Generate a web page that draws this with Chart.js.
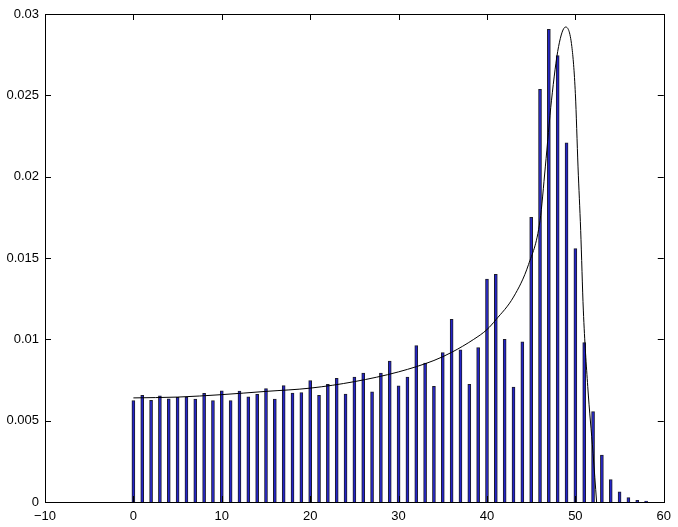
<!DOCTYPE html>
<html>
<head>
<meta charset="utf-8">
<script src="https://cdn.jsdelivr.net/npm/chart.js@4.4.0/dist/chart.umd.min.js"></script>
<style>
    html, body { margin: 0; padding: 0; background: #fff; }
    #wrap { width: 678px; height: 527px; }
</style>
</head>
<body>
<div id="wrap"><canvas id="histChart" width="678" height="527"></canvas></div>
<script>
// histogram bins (centres) and normalised counts
const binCenters = [0, 1, 2, 3, 4, 5, 6, 7, 8, 9, 10, 11, 12, 13, 14, 15, 16, 17, 18, 19,
    20, 21, 22, 23, 24, 25, 26, 27, 28, 29, 30, 31, 32, 33, 34, 35, 36, 37, 38, 39,
    40, 41, 42, 43, 44, 45, 46, 47, 48, 49, 50, 51, 52, 53, 54, 55, 56, 57, 58];
const density = [0.00623, 0.00656, 0.00625, 0.00652, 0.00635, 0.00643, 0.00645, 0.00633, 0.00668, 0.00623,
    0.00683, 0.00623, 0.00682, 0.00647, 0.00662, 0.00697, 0.00633, 0.00715, 0.0067, 0.00672,
    0.00746, 0.00656, 0.00723, 0.0076, 0.00664, 0.00768, 0.00793, 0.00678, 0.00793, 0.00867,
    0.00714, 0.00768, 0.00961, 0.00854, 0.00711, 0.00918, 0.01123, 0.00936, 0.00723, 0.0095,
    0.0137, 0.0140, 0.0100, 0.00707, 0.00984, 0.0175, 0.02537, 0.02905, 0.02745, 0.02208,
    0.01558, 0.0098, 0.00556, 0.00289, 0.00138, 0.00062, 0.00027, 0.0001, 0.00006];

// fitted curve
const curveX = [0, 5, 10, 15, 20, 25, 30, 34, 36, 38.5, 40, 41, 43, 44.7, 46, 46.6, 47.3, 48.1, 48.9,
    49.6, 50, 50.3, 50.6, 50.9, 51.4, 52, 52.4];
const curveY = [0.0064, 0.00645, 0.0066, 0.0068, 0.0070, 0.0074, 0.0080, 0.0087, 0.0092, 0.0100, 0.0106,
    0.0112, 0.0126, 0.0146, 0.0173, 0.0206, 0.0247, 0.0280, 0.0292,
    0.0280, 0.0251, 0.0206, 0.0167, 0.0118, 0.0071, 0.0030, 0.0];

const xTicks = [-10, 0, 10, 20, 30, 40, 50, 60];
const yTicks = [0, 0.005, 0.01, 0.015, 0.02, 0.025, 0.03];

// matlab style box with inward ticks on all four sides
const boxTicks = {
    id: 'boxTicks',
    afterDraw(chart) {
        const { ctx, chartArea: a, scales } = chart;
        const len = 6;
        ctx.save();
        ctx.strokeStyle = '#000';
        ctx.lineWidth = 1;
        ctx.strokeRect(Math.round(a.left) + 0.5, Math.round(a.top) + 0.5,
            Math.round(a.right - a.left), Math.round(a.bottom - a.top));
        ctx.beginPath();
        xTicks.forEach(v => {
            const px = Math.round(scales.x.getPixelForValue(v)) + 0.5;
            ctx.moveTo(px, a.bottom); ctx.lineTo(px, a.bottom - len);
            ctx.moveTo(px, a.top); ctx.lineTo(px, a.top + len);
        });
        yTicks.forEach(v => {
            const py = Math.round(scales.y.getPixelForValue(v)) + 0.5;
            ctx.moveTo(a.left, py); ctx.lineTo(a.left + len, py);
            ctx.moveTo(a.right, py); ctx.lineTo(a.right - len, py);
        });
        ctx.stroke();
        ctx.restore();
    }
};

const ctx = document.getElementById('histChart').getContext('2d');
new Chart(ctx, {
    data: {
        datasets: [{
            type: 'line',
            data: curveX.map((x, i) => ({ x: x, y: curveY[i] })),
            borderColor: '#000',
            borderWidth: 1,
            pointRadius: 0,
            cubicInterpolationMode: 'monotone',
            order: 0
        }, {
            type: 'bar',
            data: binCenters.map((x, i) => ({ x: x, y: density[i] })),
            backgroundColor: '#2424c8',
            borderColor: '#1c1c2c',
            borderWidth: 1,
            barThickness: 3,
            order: 1
        }]
    },
    options: {
        responsive: false,
        animation: false,
        events: [],
        layout: { padding: { top: 14, right: 12, left: 0, bottom: 0 } },
        plugins: { legend: { display: false }, tooltip: { enabled: false } },
        scales: {
            x: {
                type: 'linear',
                min: -10,
                max: 60,
                offset: false,
                grid: { display: false, drawTicks: false },
                border: { display: false },
                afterBuildTicks: s => { s.ticks = xTicks.map(v => ({ value: v })); },
                afterFit: s => { s.height = 25; },
                ticks: {
                    color: '#000',
                    padding: 7,
                    maxRotation: 0,
                    font: { family: 'Liberation Sans, Arial, sans-serif', size: 13 },
                    callback: v => (v < 0 ? '\u2212' + Math.abs(v) : String(v))
                }
            },
            y: {
                min: 0,
                max: 0.03,
                grid: { display: false, drawTicks: false },
                border: { display: false },
                afterBuildTicks: s => { s.ticks = yTicks.map(v => ({ value: v })); },
                afterFit: s => { s.width = 45; },
                ticks: {
                    color: '#000',
                    padding: 6,
                    font: { family: 'Liberation Sans, Arial, sans-serif', size: 13 },
                    callback: v => String(+v.toFixed(3))
                }
            }
        }
    },
    plugins: [boxTicks]
});
</script>
</body>
</html>
